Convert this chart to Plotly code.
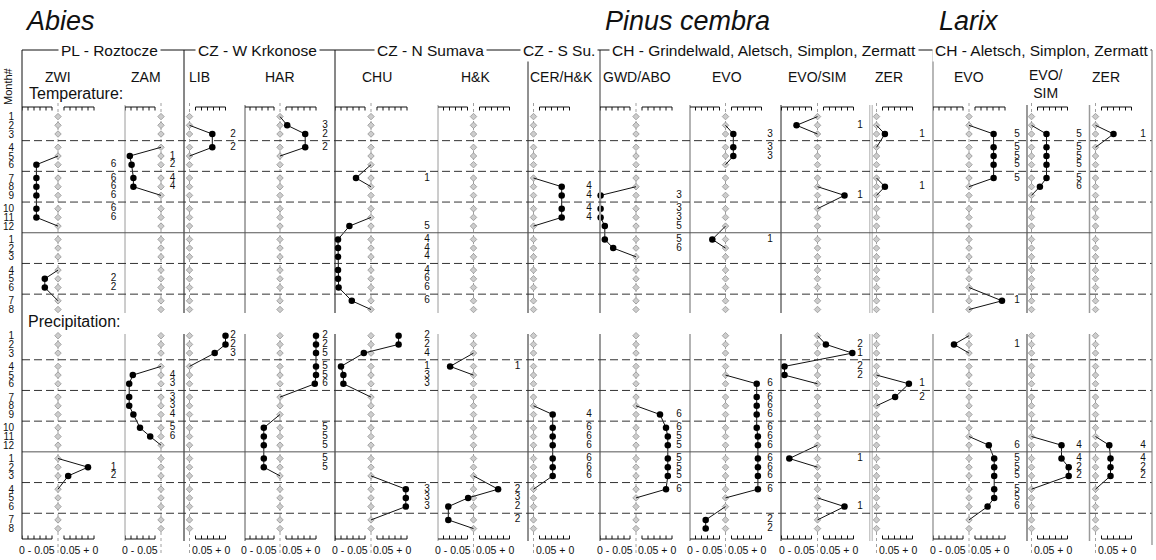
import plotly.graph_objects as go

W, H = 1156, 560

# ---------------- data ----------------
MONTH_LABELS = ["1", "2", "3", "4", "5", "6", "7", "8", "9", "10", "11", "12",
                "1", "2", "3", "4", "5", "6", "7", "8"]
ROWS = list(range(1, 21))
GENERA = ["Abies", "Pinus cembra", "Larix"]
REGIONS = ["PL - Roztocze", "CZ - W Krkonose", "CZ - N Sumava", "CZ - S Su.",
           "CH - Grindelwald, Aletsch, Simplon, Zermatt", "CH - Aletsch, Simplon, Zermatt"]
SITES = ["ZWI", "ZAM", "LIB", "HAR", "CHU", "H&K", "CER/H&K", "GWD/ABO",
         "EVO", "EVO/SIM", "ZER", "EVO", "EVO/<br>SIM", "ZER"]
BLOCK_TITLES = ["Temperature:", "Precipitation:"]
SCALE_LABELS = ["0 - 0.05", "0.05 + 0"]
Y_TITLE = "Month#"

# significant months: (row 1..20, shift, count)
ZWI_T = [(6, -0.036, 6), (7, -0.036, 6), (8, -0.036, 6), (9, -0.036, 6), (10, -0.036, 6),
         (11, -0.036, 6), (17, -0.022, 2), (18, -0.022, 2)]
ZWI_P = [(14, 0.050, 1), (15, 0.017, 2)]
ZAM_T = [(5, -0.052, 1), (6, -0.049, 2), (7, -0.046, 4), (8, -0.046, 4)]
ZAM_P = [(5, -0.047, 4), (6, -0.053, 3), (7, -0.053, 3), (8, -0.053, 3), (9, -0.046, 4),
         (10, -0.035, 5), (11, -0.018, 6)]
LIB_T = [(3, 0.038, 2), (4, 0.038, 2)]
LIB_P = [(1, 0.060, 2), (2, 0.060, 2), (3, 0.042, 3)]
HAR_T = [(2, 0.012, 3), (3, 0.042, 2), (4, 0.042, 2)]
HAR_P = [(1, 0.060, 2), (2, 0.060, 2), (3, 0.060, 5), (4, 0.060, 5), (5, 0.060, 5), (6, 0.058, 6),
         (10, -0.027, 5), (11, -0.027, 5), (12, -0.027, 5), (13, -0.027, 5), (14, -0.027, 5)]
CHU_T = [(7, -0.025, 1), (12, -0.036, 5), (13, -0.055, 4), (14, -0.055, 4), (15, -0.055, 4),
         (16, -0.055, 4), (17, -0.055, 6), (18, -0.054, 6), (19, -0.032, 6)]
CHU_P = [(1, 0.046, 2), (2, 0.046, 2), (3, -0.012, 4), (4, -0.050, 1), (5, -0.046, 3), (6, -0.046, 3),
         (16, 0.058, 3), (17, 0.058, 3), (18, 0.058, 3)]
HK_T = []
HK_P = [(4, -0.039, 1), (16, 0.041, 2), (17, -0.009, 3), (18, -0.042, 2), (19, -0.042, 2)]
CER_T = [(8, 0.047, 4), (9, 0.047, 4), (10, 0.047, 4), (11, 0.047, 4)]
CER_P = [(9, 0.032, 4), (10, 0.032, 6), (11, 0.032, 6), (12, 0.032, 6), (13, 0.032, 6),
         (14, 0.032, 6), (15, 0.032, 6)]
GWD_T = [(9, -0.059, 3), (10, -0.059, 3), (11, -0.059, 3), (12, -0.052, 5), (13, -0.052, 5),
         (14, -0.038, 6)]
GWD_P = [(9, 0.040, 6), (10, 0.050, 6), (11, 0.053, 5), (12, 0.053, 5), (13, 0.053, 5),
         (14, 0.053, 5), (15, 0.053, 5), (16, 0.050, 6)]
EVOP_T = [(3, 0.013, 3), (4, 0.013, 3), (5, 0.013, 3), (13, -0.022, 1)]
EVOP_P = [(6, 0.052, 6), (7, 0.052, 6), (8, 0.052, 6), (9, 0.052, 6), (10, 0.052, 6),
          (11, 0.054, 6), (12, 0.054, 6), (13, 0.054, 6), (14, 0.054, 6), (15, 0.054, 6),
          (16, 0.054, 6), (19, -0.033, 2), (20, -0.033, 2)]
ESP_T = [(2, -0.035, 1), (9, 0.045, 1)]
ESP_P = [(2, 0.014, 2), (3, 0.058, 1), (4, -0.055, 2), (5, -0.055, 2), (13, -0.047, 1), (18, 0.045, 1)]
ZERP_T = [(3, 0.014, 1), (8, 0.014, 1)]
ZERP_P = [(6, 0.054, 1), (7, 0.031, 2)]
EVOL_T = [(3, 0.041, 5), (4, 0.041, 5), (5, 0.041, 5), (6, 0.041, 5), (7, 0.041, 5), (19, 0.055, 1)]
EVOL_P = [(2, -0.025, 1), (12, 0.033, 6), (13, 0.042, 5), (14, 0.042, 5), (15, 0.042, 5),
          (16, 0.042, 5), (17, 0.042, 5), (18, 0.031, 6)]
ESL_T = [(3, 0.025, 5), (4, 0.025, 5), (5, 0.025, 5), (6, 0.025, 5), (7, 0.025, 5), (8, 0.014, 6)]
ESL_P = [(12, 0.050, 4), (13, 0.050, 4), (14, 0.062, 2), (15, 0.062, 2)]
ZERL_T = [(3, 0.030, 1)]
ZERL_P = [(12, 0.023, 4), (13, 0.025, 4), (14, 0.025, 2), (15, 0.025, 2)]

TEMP = [ZWI_T, ZAM_T, LIB_T, HAR_T, CHU_T, HK_T, CER_T, GWD_T, EVOP_T, ESP_T, ZERP_T, EVOL_T, ESL_T, ZERL_T]
PREC = [ZWI_P, ZAM_P, LIB_P, HAR_P, CHU_P, HK_P, CER_P, GWD_P, EVOP_P, ESP_P, ZERP_P, EVOL_P, ESL_P, ZERL_P]

# ---------------- layout constants (pixels) ----------------
FONT = "Liberation Sans, Arial, Helvetica, sans-serif"
NARROW = "Liberation Sans Narrow, Arial Narrow, Liberation Sans, Arial, sans-serif"
PX_PER_UNIT = 600.0
ROW_STEP = 8.7
QUARTER_GAP = 4.6
TEMP_BASE, PREC_BASE = 116.6, 335.7
PANEL_LEFT_PX = [22, 125, 184, 245, 335, 438, 528, 600, 690, 781, 871, 933, 1027, 1089.5]
PANEL_ZERO_PX = [58, 161, 189.5, 280, 371, 473.5, 533.5, 636, 725.5, 817.5, 876.5, 969, 1031.5, 1095.5]
RIGHT_EDGE_PX = 1152
HAS_LEFT_BAR = [1, 1, 0, 1, 1, 1, 0, 1, 1, 1, 0, 1, 0, 0]
HAS_RIGHT_BAR = [1, 0, 1, 1, 1, 1, 1, 1, 1, 1, 1, 1, 1, 1]
COUNT_X_PX = [113.5, 172.5, 233, 325, 427, 517.5, 589, 679, 770, 860, 922, 1017, 1079, 1143]
SITE_X_PX = [58, 145.5, 200, 280, 377, 475, 561, 637, 727, 817, 889, 969, 1046, 1106]
SEP_COLOR = ["#000", "#9a9a9a", "#111", "#555", "#111", "#9a9a9a", "#222", "#9a9a9a",
             "#9a9a9a", "#222", "#9a9a9a", "#888", "#9a9a9a", "#9a9a9a"]
SEP_WIDTH = [1, 1, 1, 1, 1, 1, 1, 2, 1.5, 1, 1, 1.2, 2, 1.5]
SEP_TO_HEADER = [1, 0, 1, 0, 1, 0, 1, 1, 0, 0, 0, 1, 0, 0]
HEADER_Y = 50
TOP_BLOCK = (105, 313)
BOT_BLOCK = (334, 541)
TOP_BAR_Y, BOT_BAR_Y, TICK_LEN = 107, 539, 3.5
BAR_GAP, BAR_LEN, BAR_STEP = 0.01, 0.05, 0.01
REGION_X_PX = [109, 257, 430, 559, 764, 1041]
GENUS_X_PX = [23, 603, 937]


def pos(r):
    return (r - 1) * ROW_STEP + ((r - 1) // 3) * QUARTER_GAP


def py(p):
    return 1 - p / H


fig = go.Figure()
axes = {}
shapes = []
annotations = []

edges = PANEL_LEFT_PX + [RIGHT_EDGE_PX]
n = len(SITES)
for i in range(n):
    L, R, Z = edges[i], edges[i + 1], PANEL_ZERO_PX[i]
    xname = "xaxis" if i == 0 else f"xaxis{i + 1}"
    xref = "x" if i == 0 else f"x{i + 1}"
    axes[xname] = dict(domain=[L / W, R / W], range=[(L - Z) / PX_PER_UNIT, (R - Z) / PX_PER_UNIT],
                       visible=False, anchor="y", fixedrange=True)
    count_x = (COUNT_X_PX[i] - Z) / PX_PER_UNIT

    # zero dotted lines
    for (y0, y1) in [(103, TOP_BLOCK[1]), (BOT_BLOCK[0], 553)]:
        shapes.append(dict(type="line", xref=xref, yref="paper", x0=0, x1=0, y0=py(y0), y1=py(y1),
                           line=dict(color="#a0a0a0", width=1, dash="dot"), layer="below"))
    # panel separators
    if i > 0:
        top = HEADER_Y if SEP_TO_HEADER[i] else TOP_BLOCK[0]
        for (y0, y1) in [(top, TOP_BLOCK[1]), BOT_BLOCK]:
            xs = [L - 1.2, L + 1.2] if i == 10 else [L]
            for xx in xs:
                shapes.append(dict(type="line", xref="paper", yref="paper", x0=xx / W, x1=xx / W,
                                   y0=py(y0), y1=py(y1),
                                   line=dict(color=SEP_COLOR[i], width=SEP_WIDTH[i] if i != 10 else 0.8)))

    # scale bars
    bars = []
    if HAS_LEFT_BAR[i]:
        bars.append((-BAR_GAP - BAR_LEN, -BAR_GAP, 0))
    if HAS_RIGHT_BAR[i]:
        bars.append((BAR_GAP, BAR_GAP + BAR_LEN, 1))
    for (a, b, side) in bars:
        nt = int(round(BAR_LEN / BAR_STEP))
        ticks = [a + k * BAR_STEP for k in range(nt + 1)]
        for (yb, d) in [(TOP_BAR_Y, TICK_LEN), (BOT_BAR_Y, -TICK_LEN)]:
            path = f"M{a},{py(yb)} L{b},{py(yb)}"
            for t in ticks:
                path += f" M{t},{py(yb)} L{t},{py(yb + d)}"
            shapes.append(dict(type="path", xref=xref, yref="paper", path=path,
                               line=dict(color="#111", width=1)))
        annotations.append(dict(x=(a + b) / 2, y=py(550), xref=xref, yref="paper", text=SCALE_LABELS[side],
                                showarrow=False, font=dict(family=NARROW, size=10.5, color="#111"),
                                xanchor="center", yanchor="middle"))

    # site label
    annotations.append(dict(x=SITE_X_PX[i] / W, y=py(77 if i != 12 else 83.5), xref="paper", yref="paper",
                            text=SITES[i], showarrow=False, align="center",
                            font=dict(family=FONT, size=14, color="#111"),
                            xanchor="center", yanchor="middle"))

    for data, yref in [(TEMP[i], "y"), (PREC[i], "y2")]:
        fig.add_trace(go.Scatter(x=[0] * len(ROWS), y=[pos(r) for r in ROWS], xaxis=xref, yaxis=yref,
                                 mode="markers", cliponaxis=False, hoverinfo="skip", showlegend=False,
                                 marker=dict(symbol="diamond", size=5, color="#cdcdcd",
                                             line=dict(color="#8a8a8a", width=0.7))))
        if not data:
            continue
        data = sorted(data)
        runs, cur = [], [data[0]]
        for d in data[1:]:
            if d[0] == cur[-1][0] + 1:
                cur.append(d)
            else:
                runs.append(cur)
                cur = [d]
        runs.append(cur)
        lx, ly = [], []
        for run in runs:
            if run[0][0] > 1:
                lx.append(0)
                ly.append(pos(run[0][0] - 1))
            for (r, v, c) in run:
                lx.append(v)
                ly.append(pos(r))
            if run[-1][0] < 20:
                lx.append(0)
                ly.append(pos(run[-1][0] + 1))
            lx.append(None)
            ly.append(None)
        fig.add_trace(go.Scatter(x=lx, y=ly, xaxis=xref, yaxis=yref, mode="lines", cliponaxis=False,
                                 hoverinfo="skip", showlegend=False,
                                 line=dict(color="#111", width=1)))
        fig.add_trace(go.Scatter(x=[d[1] for d in data], y=[pos(d[0]) for d in data], xaxis=xref,
                                 yaxis=yref, mode="markers", cliponaxis=False, showlegend=False,
                                 marker=dict(size=6.5, color="#000")))
        fig.add_trace(go.Scatter(x=[count_x] * len(data), y=[pos(d[0]) for d in data], xaxis=xref,
                                 yaxis=yref, mode="text", text=[str(d[2]) for d in data],
                                 textposition="middle center", cliponaxis=False, showlegend=False,
                                 hoverinfo="skip", textfont=dict(family=NARROW, size=10, color="#111")))

# horizontal quarter lines
for yref in ["y", "y2"]:
    for b in [3, 6, 9, 12, 15, 18]:
        yy = (pos(b) + pos(b + 1)) / 2
        shapes.append(dict(type="line", xref="paper", yref=yref, x0=22 / W, x1=RIGHT_EDGE_PX / W, y0=yy, y1=yy,
                           line=dict(color="#333" if b != 12 else "#555", width=1,
                                     dash="solid" if b == 12 else "8px,4px")))

# header line, left axis and right border
shapes.append(dict(type="line", xref="paper", yref="paper", x0=22 / W, x1=RIGHT_EDGE_PX / W,
                   y0=py(HEADER_Y), y1=py(HEADER_Y), line=dict(color="#111", width=1)))
shapes.append(dict(type="line", xref="paper", yref="paper", x0=22 / W, x1=22 / W,
                   y0=py(HEADER_Y), y1=py(BOT_BAR_Y), line=dict(color="#111", width=1)))
shapes.append(dict(type="line", xref="paper", yref="paper", x0=RIGHT_EDGE_PX / W, x1=RIGHT_EDGE_PX / W,
                   y0=py(HEADER_Y), y1=py(545), line=dict(color="#888", width=1.2)))

for k, txt in enumerate(REGIONS):
    annotations.append(dict(x=REGION_X_PX[k] / W, y=py(HEADER_Y), xref="paper", yref="paper", text=txt,
                            showarrow=False, bgcolor="white", borderpad=2,
                            font=dict(family=FONT, size=15.5, color="#111"),
                            xanchor="center", yanchor="middle"))
for k, txt in enumerate(GENERA):
    annotations.append(dict(x=GENUS_X_PX[k] / W, y=py(21), xref="paper", yref="paper", text=f"<i>{txt}</i>",
                            showarrow=False, font=dict(family=FONT, size=27, color="#111"),
                            xanchor="left", yanchor="middle"))
annotations.append(dict(x=27 / W, y=py(94), xref="paper", yref="paper", text=BLOCK_TITLES[0], showarrow=False,
                        font=dict(family=FONT, size=16, color="#111"), xanchor="left", yanchor="middle"))
annotations.append(dict(x=26 / W, y=py(321), xref="paper", yref="paper", text=BLOCK_TITLES[1], showarrow=False,
                        font=dict(family=FONT, size=16, color="#111"), xanchor="left", yanchor="middle"))
annotations.append(dict(x=8 / W, y=py(86), xref="paper", yref="paper", text=Y_TITLE, showarrow=False,
                        textangle=-90, font=dict(family=FONT, size=11, color="#111"),
                        xanchor="center", yanchor="middle"))

tick_vals = [pos(r) for r in ROWS]
yax_common = dict(tickvals=tick_vals, ticktext=MONTH_LABELS, showgrid=False, zeroline=False, showline=False,
                  ticks="", ticklen=0, ticklabelstandoff=7, automargin=False, fixedrange=True, anchor="x",
                  tickfont=dict(family=NARROW, size=10, color="#111"))
axes["yaxis"] = dict(domain=[py(316), py(100)], range=[316 - TEMP_BASE, 100 - TEMP_BASE], **yax_common)
axes["yaxis2"] = dict(domain=[py(540), py(330)], range=[540 - PREC_BASE, 330 - PREC_BASE], **yax_common)

fig.update_layout(width=W, height=H, margin=dict(l=0, r=0, t=0, b=0, autoexpand=False),
                  paper_bgcolor="white", plot_bgcolor="white", showlegend=False,
                  shapes=shapes, annotations=annotations, **axes)
fig.write_html("out.html", config={"displayModeBar": False},
               post_script="document.body.style.margin='0';document.body.style.overflow='hidden';")
